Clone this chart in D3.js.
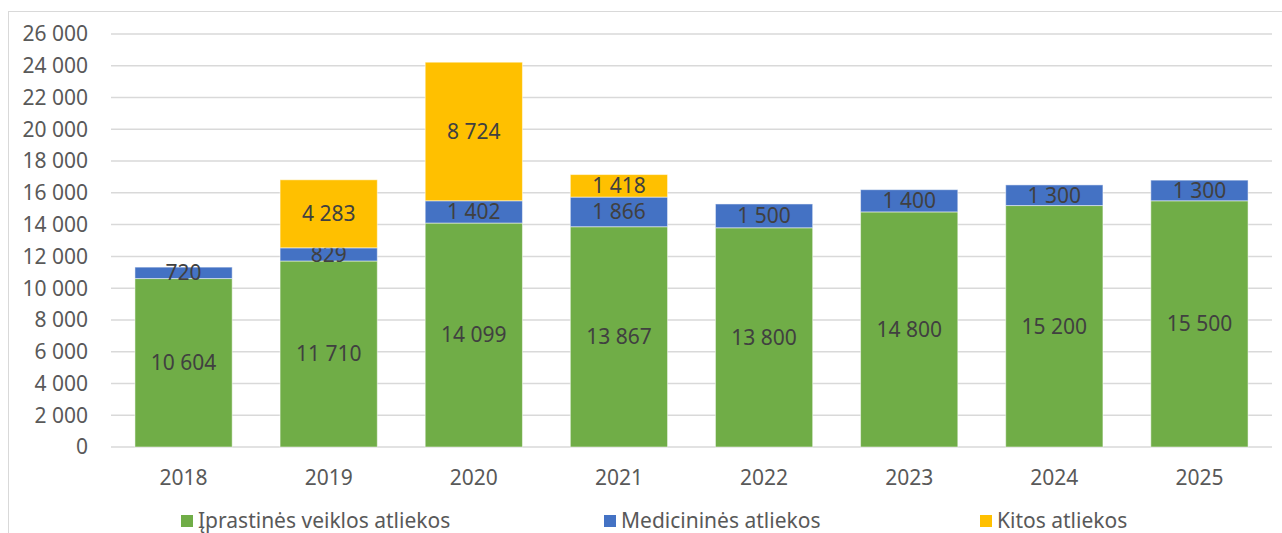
<!DOCTYPE html>
<html>
<head>
<meta charset="utf-8">
<script src="https://cdn.jsdelivr.net/npm/d3@7"></script>
<style>
  body { margin: 0; background: #fff; }
  svg { display: block; font-family: "Noto Sans", sans-serif; }
</style>
</head>
<body>
<svg id="chart" width="1282" height="533"></svg>
<script>
// data
const years = ["2018", "2019", "2020", "2021", "2022", "2023", "2024", "2025"];
const iprastines = [10604, 11710, 14099, 13867, 13800, 14800, 15200, 15500];
const medicinines = [720, 829, 1402, 1866, 1500, 1400, 1300, 1300];
const kitos = [0, 4283, 8724, 1418, 0, 0, 0, 0];
const seriesNames = ["Įprastinės veiklos atliekos", "Medicininės atliekos", "Kitos atliekos"];
const yTicks = d3.range(0, 26001, 2000);

const colors = ["#70AD47", "#4472C4", "#FFC000"];
const keys = ["ipr", "med", "kit"];

const width = 1282, height = 533;
const margin = {left: 111, right: 10, top: 34, bottom: 86};
const svg = d3.select("#chart");

// chart area frame
svg.append("rect")
    .attr("x", 8.5).attr("y", 11.5)
    .attr("width", 1400).attr("height", 700)
    .attr("fill", "none").attr("stroke", "#d9d9d9").attr("stroke-width", 1);

const rows = years.map((y, i) => ({year: y, ipr: iprastines[i], med: medicinines[i], kit: kitos[i]}));
const stacked = d3.stack().keys(keys)(rows);

const x = d3.scaleBand()
    .domain(years)
    .range([margin.left, width - margin.right])
    .paddingInner(0.33)
    .paddingOuter(0.165);

const y = d3.scaleLinear()
    .domain([0, 26000])
    .range([height - margin.bottom, margin.top]);

const fmt = d3.formatLocale({decimal: ",", thousands: " ", grouping: [3], currency: ["", ""]}).format(",d");

// gridlines
svg.append("g")
    .selectAll("line")
    .data(yTicks)
    .join("line")
    .attr("x1", margin.left).attr("x2", width - margin.right)
    .attr("y1", d => y(d)).attr("y2", d => y(d))
    .attr("stroke", "#d9d9d9").attr("stroke-width", 1.5);

// y labels
svg.append("g")
    .selectAll("text")
    .data(yTicks)
    .join("text")
    .attr("x", 88)
    .attr("y", d => y(d))
    .attr("dy", "0.35em")
    .attr("text-anchor", "end")
    .attr("font-size", 21)
    .attr("fill", "#595959")
    .text(d => fmt(d));

// bars
const layer = svg.append("g")
    .selectAll("g")
    .data(stacked)
    .join("g")
    .attr("fill", (d, i) => colors[i]);

layer.selectAll("rect")
    .data(d => d.filter(s => s[1] - s[0] > 0))
    .join("rect")
    .attr("x", d => x(d.data.year))
    .attr("y", d => y(d[1]))
    .attr("width", x.bandwidth())
    .attr("height", d => y(d[0]) - y(d[1]))
    .attr("stroke", "#fff").attr("stroke-opacity", 0.5).attr("stroke-width", 1);

// value labels
layer.selectAll("text")
    .data(d => d.filter(s => s[1] - s[0] > 0))
    .join("text")
    .attr("x", d => x(d.data.year) + x.bandwidth() / 2)
    .attr("y", d => (y(d[0]) + y(d[1])) / 2)
    .attr("dy", "0.35em")
    .attr("text-anchor", "middle")
    .attr("font-size", 21)
    .attr("fill", "#404040")
    .text(d => fmt(d[1] - d[0]));

// x labels
svg.append("g")
    .selectAll("text")
    .data(years)
    .join("text")
    .attr("x", d => x(d) + x.bandwidth() / 2)
    .attr("y", 478)
    .attr("dy", "0.35em")
    .attr("text-anchor", "middle")
    .attr("font-size", 21)
    .attr("fill", "#595959")
    .text(d => d);

// legend
const legendX = [181, 604, 980];
const legend = svg.append("g")
    .selectAll("g")
    .data(seriesNames)
    .join("g")
    .attr("transform", (d, i) => `translate(${legendX[i]},521)`);
legend.append("rect")
    .attr("x", 0).attr("y", -6)
    .attr("width", 12).attr("height", 12)
    .attr("fill", (d, i) => colors[i]);
legend.append("text")
    .attr("x", 17)
    .attr("dy", "0.35em")
    .attr("font-size", 21)
    .attr("fill", "#595959")
    .text(d => d);
</script>
</body>
</html>
